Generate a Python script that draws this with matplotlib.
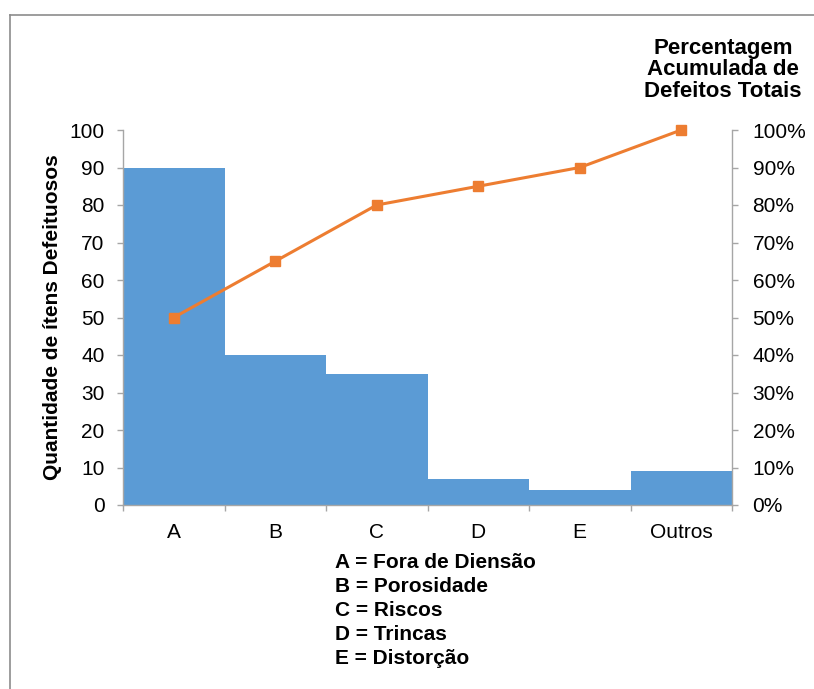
import matplotlib
matplotlib.use("Agg")
import matplotlib.pyplot as plt
from matplotlib.lines import Line2D
from matplotlib.ticker import FuncFormatter

categories = ["A", "B", "C", "D", "E", "Outros"]
quantities = [90, 40, 35, 7, 4, 9]
cumulative_pct = [50, 65, 80, 85, 90, 100]
legend_lines = [
    "A = Fora de Diensão",
    "B = Porosidade",
    "C = Riscos",
    "D = Trincas",
    "E = Distorção",
]

plt.rcParams["font.family"] = ["Liberation Sans", "DejaVu Sans"]

BAR = "#5B9BD5"
LINE = "#ED7D31"
GRID = "#A6A6A6"

W, H = 814, 689
fig = plt.figure(figsize=(W / 100, H / 100), dpi=100)

# outer chart frame (top and left edges)
fx, fy = 9.5 / W, 1 - 14.5 / H
fig.add_artist(Line2D([fx, 1.0], [fy, fy], transform=fig.transFigure,
                      color="#8C8C8C", linewidth=1.2))
fig.add_artist(Line2D([fx, fx], [0.0, fy], transform=fig.transFigure,
                      color="#8C8C8C", linewidth=1.2))

left, right, top, bottom = 123, 732, 130, 505
ax = fig.add_axes([left / W, 1 - bottom / H, (right - left) / W, (bottom - top) / H])
x = list(range(len(categories)))
ax.bar(x, quantities, width=1.0, color=BAR, edgecolor="none", zorder=2)
ax.set_xlim(-0.5, len(categories) - 0.5)
ax.set_ylim(0, 100)
ax.set_yticks(range(0, 101, 10))
ax.set_xticks(x)
ax.set_xticklabels(categories)
ax.set_xticks([i - 0.5 for i in range(len(categories) + 1)], minor=True)
ax.tick_params(axis="x", which="major", length=0, labelsize=15, pad=13)
ax.tick_params(axis="x", which="minor", length=4.3, color=GRID, width=1)
ax.tick_params(axis="y", length=4.3, color=GRID, width=1, labelsize=15, pad=9)
for s in ["top", "right"]:
    ax.spines[s].set_visible(False)
for s in ["left", "bottom"]:
    ax.spines[s].set_color(GRID)
    ax.spines[s].set_linewidth(1)
ax.set_ylabel("Quantidade de ítens Defeituosos", fontsize=15, fontweight="bold", labelpad=5)

ax2 = ax.twinx()
ax2.plot(x, cumulative_pct, color=LINE, linewidth=2.2, marker="s", markersize=7,
         markeredgecolor=LINE, zorder=3, clip_on=False)
ax2.set_ylim(0, 100)
ax2.set_yticks(range(0, 101, 10))
ax2.yaxis.set_major_formatter(FuncFormatter(lambda v, p: f"{int(v)}%"))
ax2.tick_params(axis="y", length=4.3, color=GRID, width=1, labelsize=15, pad=10.5)
for s in ["top", "left", "bottom"]:
    ax2.spines[s].set_visible(False)
ax2.spines["right"].set_color(GRID)
ax2.spines["right"].set_linewidth(1)

fig.text(723 / W, 1 - 38 / H, "Percentagem\nAcumulada de\nDefeitos Totais",
         ha="center", va="top", fontsize=16, fontweight="bold", linespacing=1.02)

for i, line in enumerate(legend_lines):
    fig.text(335 / W, 1 - (562 + 24.25 * i) / H, line, ha="left", va="center",
             fontsize=15, fontweight="bold")

fig.savefig("out.png", dpi=100)
